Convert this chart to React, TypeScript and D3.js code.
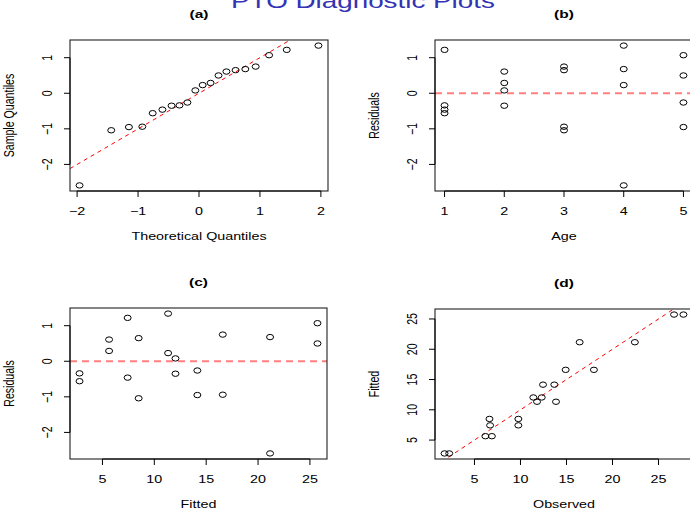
import React, { useEffect } from 'react';
import * as d3 from 'd3';

// theoretical normal quantiles for the 20 residuals
const theoQuantiles = [-1.96, -1.44, -1.15, -0.93, -0.76, -0.6, -0.45, -0.32, -0.19, -0.06,
  0.06, 0.19, 0.32, 0.45, 0.6, 0.76, 0.93, 1.15, 1.44, 1.96];

// one entry per observation
const fittedValues = [2.79, 2.79, 5.64, 5.64, 7.43, 7.43, 8.49, 8.49, 11.33, 11.33,
  12.04, 12.04, 14.15, 14.15, 16.6, 16.6, 21.16, 21.16, 25.73, 25.73];
const observedValues = [1.75, 2.26, 6.19, 6.89, 6.7, 9.77, 6.63, 9.77, 11.8, 13.86,
  11.4, 12.31, 12.45, 13.68, 14.91, 17.98, 16.43, 22.43, 26.69, 27.71];
const residualValues = [-0.56, -0.34, 0.29, 0.61, -0.46, 1.22, -1.04, 0.65, 0.23, 1.34,
  -0.35, 0.08, -0.95, -0.26, -0.94, 0.75, -2.59, 0.68, 0.5, 1.07];
const ageValues = [1, 1, 2, 2, 1, 1, 3, 3, 4, 4, 2, 2, 5, 5, 3, 3, 4, 4, 5, 5];

const residTicks = [-2, -1, 0, 1];
const theoTicks = [-2, -1, 0, 1, 2];
const ageTicks = [1, 2, 3, 4, 5];
const fiveTicks = [5, 10, 15, 20, 25];

const FONT = '"Liberation Sans", Arial, Helvetica, sans-serif';
const SX = 1.35; // the picture is stretched sideways
const fmt = (v) => (v < 0 ? '\u2212' + Math.abs(v) : String(v));

// R style axis range: data range padded by 4% each side
const pad = (vals) => {
  const [a, b] = d3.extent(vals);
  const r = b - a;
  return [a - 0.04 * r, b + 0.04 * r];
};

const Txt = ({ x, y, size = 10.6, rotate = false, weight = 'normal', fill = '#000', children }) => (
  <text
    transform={`translate(${x},${y}) scale(${SX},1)${rotate ? ' rotate(-90)' : ''}`}
    textAnchor="middle"
    fontSize={size}
    fontWeight={weight}
    fontFamily={FONT}
    fill={fill}
  >
    {children}
  </text>
);

const Panel = ({ id, box, xs, ys, xTicks, yTicks, title, xLabel, yLabel, refLine }) => {
  const { left, top, width, height } = box;
  const x = d3.scaleLinear().domain(pad(xs)).range([left, left + width]);
  const y = d3.scaleLinear().domain(pad(ys)).range([top + height, top]);
  const bottom = top + height;
  const [x0, x1] = x.domain();

  return (
    <g>
      <defs>
        <clipPath id={`clip-${id}`}>
          <rect x={left} y={top} width={width} height={height} />
        </clipPath>
      </defs>

      <g clipPath={`url(#clip-${id})`}>
        {refLine === 'diag' && (
          <line x1={x(x0)} y1={y(x0)} x2={x(x1)} y2={y(x1)}
            stroke="#ff0000" strokeWidth={1} strokeDasharray="4,4" />
        )}
        {refLine === 'zero' && (
          <line x1={left} y1={y(0)} x2={left + width} y2={y(0)}
            stroke="rgba(255,0,0,0.5)" strokeWidth={2} strokeDasharray="7,5" />
        )}
      </g>

      {xs.map((v, i) => (
        <ellipse key={i} cx={x(v)} cy={y(ys[i])} rx={3.5} ry={2.7}
          fill="none" stroke="#000" strokeWidth={1} />
      ))}

      <rect x={left} y={top} width={width} height={height} fill="none" stroke="#222" strokeWidth={1.1} />

      {/* x axis */}
      <line x1={x(xTicks[0])} x2={x(xTicks[xTicks.length - 1])} y1={bottom} y2={bottom} stroke="#000" />
      {xTicks.map((t) => (
        <g key={t}>
          <line x1={x(t)} x2={x(t)} y1={bottom} y2={bottom + 6} stroke="#000" />
          <Txt x={x(t)} y={bottom + 23.5}>{fmt(t)}</Txt>
        </g>
      ))}

      {/* y axis */}
      <line x1={left} x2={left} y1={y(yTicks[0])} y2={y(yTicks[yTicks.length - 1])} stroke="#000" />
      {yTicks.map((t) => (
        <g key={t}>
          <line x1={left - 6} x2={left} y1={y(t)} y2={y(t)} stroke="#000" />
          <Txt x={left - 18.5} y={y(t)} rotate>{fmt(t)}</Txt>
        </g>
      ))}

      <Txt x={left + width / 2} y={top - 22} size={11.5} weight="bold">{title}</Txt>
      <Txt x={left + width / 2} y={bottom + 49}>{xLabel}</Txt>
      <Txt x={left - 56} y={top + height / 2} rotate>{yLabel}</Txt>
    </g>
  );
};

const App = () => {
  useEffect(() => {
    document.body.style.margin = '0';
  }, []);

  const sampleQuantiles = d3.sort(residualValues);

  return (
    <svg width={690} height={510} style={{ position: 'absolute', left: 0, top: 0, background: '#fff' }}>
      <rect width={690} height={510} fill="#fff" />
      <Txt x={363} y={8} size={20.6} fill="#3333b3">PTO Diagnostic Plots</Txt>

      <Panel id="a" box={{ left: 70, top: 40, width: 258, height: 151 }}
        xs={theoQuantiles} ys={sampleQuantiles} xTicks={theoTicks} yTicks={residTicks}
        title="(a)" xLabel="Theoretical Quantiles" yLabel="Sample Quantiles" refLine="diag" />

      <Panel id="b" box={{ left: 435, top: 40, width: 258, height: 151 }}
        xs={ageValues} ys={residualValues} xTicks={ageTicks} yTicks={residTicks}
        title="(b)" xLabel="Age" yLabel="Residuals" refLine="zero" />

      <Panel id="c" box={{ left: 70, top: 308, width: 257, height: 151 }}
        xs={fittedValues} ys={residualValues} xTicks={fiveTicks} yTicks={residTicks}
        title="(c)" xLabel="Fitted" yLabel="Residuals" refLine="zero" />

      <Panel id="d" box={{ left: 435, top: 309, width: 258, height: 150 }}
        xs={observedValues} ys={fittedValues} xTicks={fiveTicks} yTicks={fiveTicks}
        title="(d)" xLabel="Observed" yLabel="Fitted" refLine="diag" />
    </svg>
  );
};

export default App;
